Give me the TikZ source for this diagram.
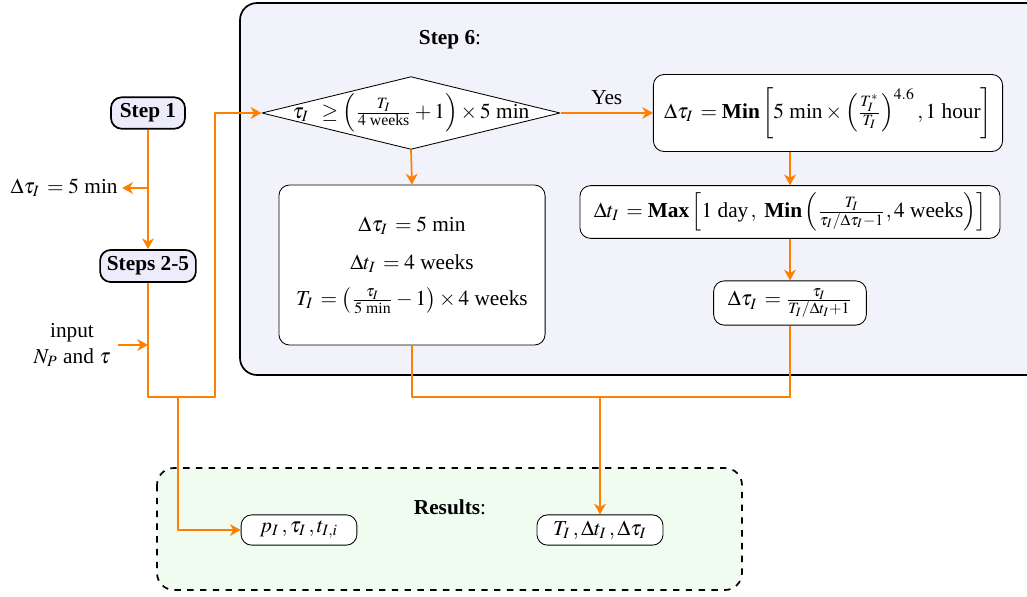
\documentclass[tikz,border=0pt]{standalone}
\usepackage{amsmath}
\usepackage{mathptmx}
\usepackage{fontspec}
\setmainfont{Liberation Serif}
\usetikzlibrary{shapes.geometric,arrows.meta}
\definecolor{flow}{RGB}{255,128,0}
\definecolor{stepfill}{RGB}{236,236,250}
\definecolor{resfill}{RGB}{240,252,240}
\begin{document}
\begin{tikzpicture}[x=0.0165cm, y=-0.0165cm, >={Stealth[length=5pt,width=5.5pt,inset=1.5pt]}, line join=round]
	\tikzset{box/.style={draw, rounded corners=5pt, fill=white, inner sep=2pt, align=center},
		stepbox/.style={draw, thick, rounded corners=5pt, fill=stepfill, inner sep=3pt, font=\bfseries},
		decision/.style={draw, diamond, fill=white, inner sep=0pt, minimum width=4.92cm, minimum height=1.2cm},
		flowline/.style={draw=flow, thick}}
	\useasboundingbox (0,0) rectangle (1027,596);
	\draw[thick, rounded corners=8pt, fill=stepfill!70] (240,3) rectangle (1060,375);
	\draw[thick, dashed, rounded corners=8pt, fill=resfill] (157,468) rectangle (742,590);
	\node (step6) at (450,40) {\textbf{Step 6}:};
	\node (res) at (450,507) {\textbf{Results}:};
	\node[stepbox, minimum width=1.22cm, minimum height=0.5cm] (step1) at (148,113) {Step 1};
	\node[stepbox, minimum width=1.58cm, minimum height=0.53cm] (steps25) at (148,266) {Steps 2-5};
	\node[anchor=east, inner sep=0pt] (init) at (118,188) {$\Delta\tau_I\,=5$ min};
	\node[align=center] (input) at (72,345) {input\\$N_P$ and $\tau$};
	\node[decision] (test) at (411,113) {};
	\node (testtxt) at (test.center) {$\tau_I\,\ \ge\left(\frac{T_I}{4\text{ weeks}}+1\right)\times5\text{ min}$};
	\node[box, minimum width=4.39cm, minimum height=2.64cm] (left) at (412,265) {%
		$\Delta\tau_I\,=5\text{ min}$\\[6pt]
		$\Delta t_I\,=4\text{ weeks}$\\[5pt]
		$T_I\,=\left(\frac{\tau_I}{5\text{ min}}-1\right)\times4\text{ weeks}$};
	\node[box, minimum width=5.76cm, minimum height=1.27cm] (min) at (828,113) {%
		$\Delta\tau_I\,=\textbf{Min}\left[5\text{ min}\times\left(\frac{T_I^*}{T_I}\right)^{4.6}, 1\text{ hour}\right]$};
	\node[box, minimum width=6.93cm, minimum height=0.87cm] (max) at (790,212) {%
		$\Delta t_I\,=\textbf{Max}\left[1\text{ day}\,,\ \textbf{Min}\left(\frac{T_I}{\tau_I/\Delta\tau_I-1}, 4\text{ weeks}\right)\right]$};
	\node[box, minimum width=2.52cm, minimum height=0.73cm] (newtau) at (790,303) {%
		$\Delta\tau_I\,=\frac{\tau_I}{T_I/\Delta t_I+1}$};
	\node[box, minimum width=1.91cm, minimum height=0.5cm] (res1) at (299,530) {$p_I\,,\tau_I\,,t_{I,i}$};
	\node[box, minimum width=2.08cm, minimum height=0.5cm] (res2) at (600,530) {$T_I\,,\Delta t_I\,,\Delta\tau_I$};
	\coordinate (b1) at (148,188);
	\coordinate (b2) at (148,345);
	\coordinate (j1) at (178,397);
	\coordinate (j2) at (600,397);
	\draw[flowline,->] (step1) -- (steps25);
	\draw[flowline,->] (b1) -- ([xshift=2pt]init.east);
	\draw[flowline,->] (input.east) -- (b2);
	\draw[flowline,->] (steps25.south) |- (215,397) -- (215,113) -- (test.west);
	\draw[flowline,->] (j1) |- (res1.west);
	\draw[flowline,->] (test.east) -- node[above, text=black] (yes) {Yes} (min.west);
	\draw[flowline,->] (test.south) -- (left.north);
	\draw[flowline,->] (min.south -| max.north) -- (max.north);
	\draw[flowline,->] (max) -- (newtau);
	\draw[flowline] (newtau.south) |- (j2) -| (left.south);
	\draw[flowline,->] (j2) -- (res2.north);
\end{tikzpicture}
\end{document}
